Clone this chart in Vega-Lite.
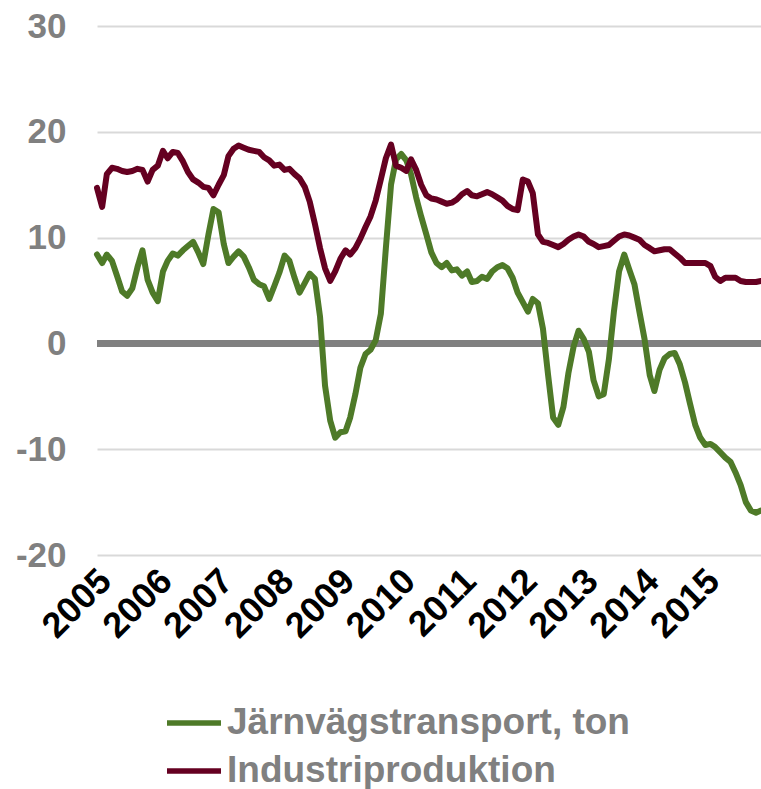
{
"$schema": "https://vega.github.io/schema/vega-lite/v6.json",
"width": 664, "height": 529,
"autosize": {"type": "none"},
"padding": {"left": 97, "top": 26, "right": 0, "bottom": 234},
"background": "white",
"config": {"view": {"stroke": null}, "font": "Liberation Sans"},
"data": {"values": [
{"d":"2005-01-01","j":8.4,"i":14.7},{"d":"2005-02-01","j":7.6,"i":12.9},{"d":"2005-03-01","j":8.4,"i":16.0},{"d":"2005-04-01","j":7.8,"i":16.6},{"d":"2005-05-01","j":6.4,"i":16.5},{"d":"2005-06-01","j":4.9,"i":16.3},{"d":"2005-07-01","j":4.5,"i":16.2},{"d":"2005-08-01","j":5.2,"i":16.3},{"d":"2005-09-01","j":7.2,"i":16.5},{"d":"2005-10-01","j":8.8,"i":16.4},{"d":"2005-11-01","j":6.0,"i":15.3},{"d":"2005-12-01","j":4.8,"i":16.4},
{"d":"2006-01-01","j":4.0,"i":16.8},{"d":"2006-02-01","j":6.8,"i":18.2},{"d":"2006-03-01","j":7.8,"i":17.5},{"d":"2006-04-01","j":8.5,"i":18.1},{"d":"2006-05-01","j":8.3,"i":18.0},{"d":"2006-06-01","j":8.8,"i":17.2},{"d":"2006-07-01","j":9.2,"i":16.2},{"d":"2006-08-01","j":9.6,"i":15.5},{"d":"2006-09-01","j":8.6,"i":15.2},{"d":"2006-10-01","j":7.5,"i":14.8},{"d":"2006-11-01","j":10.3,"i":14.7},{"d":"2006-12-01","j":12.7,"i":14.0},
{"d":"2007-01-01","j":12.4,"i":15.0},{"d":"2007-02-01","j":9.4,"i":15.9},{"d":"2007-03-01","j":7.6,"i":17.7},{"d":"2007-04-01","j":8.2,"i":18.4},{"d":"2007-05-01","j":8.7,"i":18.7},{"d":"2007-06-01","j":8.2,"i":18.5},{"d":"2007-07-01","j":7.2,"i":18.3},{"d":"2007-08-01","j":6.0,"i":18.2},{"d":"2007-09-01","j":5.6,"i":18.1},{"d":"2007-10-01","j":5.4,"i":17.6},{"d":"2007-11-01","j":4.2,"i":17.3},{"d":"2007-12-01","j":5.4,"i":16.8},
{"d":"2008-01-01","j":6.7,"i":16.9},{"d":"2008-02-01","j":8.3,"i":16.4},{"d":"2008-03-01","j":7.8,"i":16.5},{"d":"2008-04-01","j":6.2,"i":16.0},{"d":"2008-05-01","j":4.8,"i":15.6},{"d":"2008-06-01","j":5.7,"i":14.8},{"d":"2008-07-01","j":6.6,"i":13.4},{"d":"2008-08-01","j":6.1,"i":11.3},{"d":"2008-09-01","j":2.5,"i":9.0},{"d":"2008-10-01","j":-4.0,"i":7.1},{"d":"2008-11-01","j":-7.3,"i":5.9},{"d":"2008-12-01","j":-8.9,"i":6.8},
{"d":"2009-01-01","j":-8.4,"i":8.0},{"d":"2009-02-01","j":-8.3,"i":8.8},{"d":"2009-03-01","j":-7.0,"i":8.4},{"d":"2009-04-01","j":-4.8,"i":9.0},{"d":"2009-05-01","j":-2.3,"i":9.9},{"d":"2009-06-01","j":-1.0,"i":11.0},{"d":"2009-07-01","j":-0.6,"i":12.0},{"d":"2009-08-01","j":0.3,"i":13.5},{"d":"2009-09-01","j":2.8,"i":15.5},{"d":"2009-10-01","j":9.0,"i":17.5},{"d":"2009-11-01","j":15.0,"i":18.8},{"d":"2009-12-01","j":17.4,"i":16.8},
{"d":"2010-01-01","j":17.9,"i":16.6},{"d":"2010-02-01","j":17.3,"i":16.3},{"d":"2010-03-01","j":16.0,"i":17.4},{"d":"2010-04-01","j":13.8,"i":16.4},{"d":"2010-05-01","j":12.0,"i":15.0},{"d":"2010-06-01","j":10.3,"i":14.0},{"d":"2010-07-01","j":8.6,"i":13.7},{"d":"2010-08-01","j":7.6,"i":13.6},{"d":"2010-09-01","j":7.2,"i":13.4},{"d":"2010-10-01","j":7.6,"i":13.2},{"d":"2010-11-01","j":6.9,"i":13.3},{"d":"2010-12-01","j":7.0,"i":13.6},
{"d":"2011-01-01","j":6.4,"i":14.1},{"d":"2011-02-01","j":6.8,"i":14.4},{"d":"2011-03-01","j":5.8,"i":14.0},{"d":"2011-04-01","j":5.9,"i":13.9},{"d":"2011-05-01","j":6.3,"i":14.1},{"d":"2011-06-01","j":6.1,"i":14.3},{"d":"2011-07-01","j":6.8,"i":14.1},{"d":"2011-08-01","j":7.2,"i":13.8},{"d":"2011-09-01","j":7.4,"i":13.5},{"d":"2011-10-01","j":7.1,"i":13.0},{"d":"2011-11-01","j":6.2,"i":12.7},{"d":"2011-12-01","j":4.8,"i":12.6},
{"d":"2012-01-01","j":3.9,"i":15.5},{"d":"2012-02-01","j":3.0,"i":15.3},{"d":"2012-03-01","j":4.2,"i":14.2},{"d":"2012-04-01","j":3.8,"i":10.3},{"d":"2012-05-01","j":1.4,"i":9.6},{"d":"2012-06-01","j":-3.0,"i":9.5},{"d":"2012-07-01","j":-7.0,"i":9.3},{"d":"2012-08-01","j":-7.7,"i":9.1},{"d":"2012-09-01","j":-6.0,"i":9.4},{"d":"2012-10-01","j":-2.8,"i":9.8},{"d":"2012-11-01","j":-0.3,"i":10.1},{"d":"2012-12-01","j":1.2,"i":10.3},
{"d":"2013-01-01","j":0.4,"i":10.1},{"d":"2013-02-01","j":-0.8,"i":9.6},{"d":"2013-03-01","j":-3.5,"i":9.4},{"d":"2013-04-01","j":-5.0,"i":9.1},{"d":"2013-05-01","j":-4.8,"i":9.2},{"d":"2013-06-01","j":-1.5,"i":9.3},{"d":"2013-07-01","j":3.0,"i":9.7},{"d":"2013-08-01","j":6.8,"i":10.1},{"d":"2013-09-01","j":8.4,"i":10.3},{"d":"2013-10-01","j":7.0,"i":10.2},{"d":"2013-11-01","j":5.6,"i":10.0},{"d":"2013-12-01","j":3.0,"i":9.8},
{"d":"2014-01-01","j":0.4,"i":9.3},{"d":"2014-02-01","j":-3.0,"i":9.0},{"d":"2014-03-01","j":-4.5,"i":8.7},{"d":"2014-04-01","j":-2.5,"i":8.8},{"d":"2014-05-01","j":-1.4,"i":8.9},{"d":"2014-06-01","j":-1.0,"i":8.9},{"d":"2014-07-01","j":-0.9,"i":8.5},{"d":"2014-08-01","j":-2.0,"i":8.1},{"d":"2014-09-01","j":-3.7,"i":7.6},{"d":"2014-10-01","j":-5.7,"i":7.6},{"d":"2014-11-01","j":-7.7,"i":7.6},{"d":"2014-12-01","j":-8.9,"i":7.6},
{"d":"2015-01-01","j":-9.6,"i":7.6},{"d":"2015-02-01","j":-9.5,"i":7.3},{"d":"2015-03-01","j":-9.8,"i":6.3},{"d":"2015-04-01","j":-10.3,"i":5.9},{"d":"2015-05-01","j":-10.8,"i":6.2},{"d":"2015-06-01","j":-11.2,"i":6.2},{"d":"2015-07-01","j":-12.2,"i":6.2},{"d":"2015-08-01","j":-13.4,"i":5.9},{"d":"2015-09-01","j":-15.0,"i":5.8},{"d":"2015-10-01","j":-15.8,"i":5.8},{"d":"2015-11-01","j":-16.0,"i":5.8},{"d":"2015-12-01","j":-15.8,"i":5.9}
]},
"transform": [{"fold": ["j", "i"], "as": ["s", "v"]}],
"layer": [
  {"mark": {"type": "rule", "color": "#808080", "strokeWidth": 6},
   "encoding": {"y": {"datum": 0, "type": "quantitative"}}},
  {"mark": {"type": "line", "strokeWidth": 6, "strokeJoin": "round", "strokeCap": "round"},
   "encoding": {
     "x": {"field": "d", "type": "temporal",
           "scale": {"type": "utc", "domain": ["2005-01-01", "2015-12-01"], "nice": false},
           "axis": {"title": null, "format": "%Y", "tickCount": {"interval": "year", "step": 1},
                    "labelAngle": -45, "labelFontSize": 36, "labelFontWeight": "bold", "labelColor": "#000000",
                    "labelPadding": 8, "labelOffset": -4, "ticks": false, "domain": false, "grid": false,
                    "labelOverlap": false, "labelFlush": false, "labelBound": false}},
     "y": {"field": "v", "type": "quantitative",
           "scale": {"domain": [-20, 30], "nice": false},
           "axis": {"title": null, "values": [-20, -10, 0, 10, 20, 30], "grid": true, "gridColor": "#D9D9D9",
                    "gridWidth": 2, "ticks": false, "domain": false, "labelFontSize": 35,
                    "labelFontWeight": "bold", "labelColor": "#808080", "labelPadding": 31,
                    "labelExpr": "'' + datum.value"}},
     "color": {"field": "s", "type": "nominal",
               "scale": {"domain": ["j", "i"], "range": ["#4E7A28", "#650021"]},
               "legend": {"title": null, "orient": "none", "legendX": 67, "legendY": 667, "direction": "vertical",
                          "symbolType": "stroke", "symbolSize": 2916, "symbolStrokeWidth": 5.5,
                          "labelFontSize": 37, "labelFontWeight": "bold", "labelColor": "#808080",
                          "labelOffset": 3, "rowPadding": -3, "labelLimit": 1000, "padding": 0,
                          "labelExpr": "datum.label == 'j' ? 'Järnvägstransport, ton' : 'Industriproduktion'"}}
   }}
]
}
